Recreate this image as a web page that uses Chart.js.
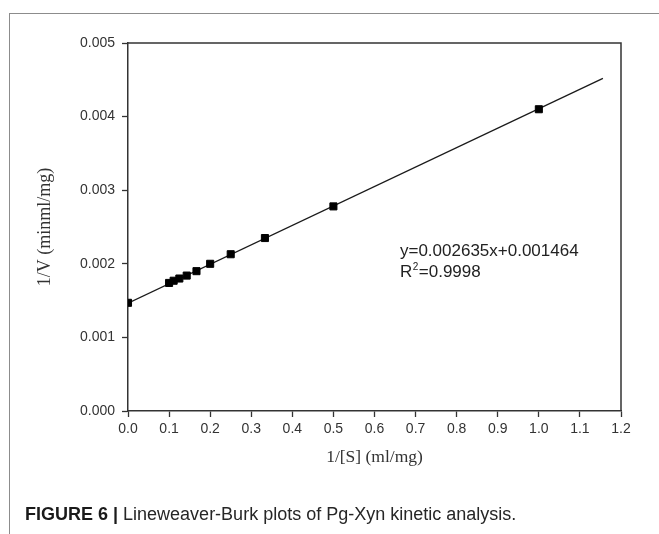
<!DOCTYPE html>
<html>
<head>
<meta charset="utf-8">
<script src="https://cdn.jsdelivr.net/npm/chart.js@4"></script>
<style>
    html, body { margin: 0; padding: 0; background: #fff; }
    body { width: 659px; height: 534px; position: relative; overflow: hidden; }
    #frame {
        position: absolute; left: 9px; top: 13px; right: -10px; bottom: -10px;
        border-top: 1.5px solid #8c8c8c; border-left: 1.5px solid #8c8c8c;
    }
    #chart { position: absolute; left: 0; top: 0; }
    #caption {
        position: absolute; left: 25px; top: 502px;
        font-family: "Liberation Sans", Arial, sans-serif; font-size: 18px; line-height: 24px;
        color: #262626; white-space: nowrap;
    }
    #caption b { font-weight: bold; color: #1a1a1a; }
</style>
</head>
<body>
<div id="frame"></div>
<canvas id="chart" width="659" height="534"></canvas>
<div id="caption"><b>FIGURE 6 |</b> Lineweaver-Burk plots of Pg-Xyn kinetic analysis.</div>
<script>
// measured points, 1/[S] vs 1/V
const substrateInv = [0, 0.1, 0.1111, 0.125, 0.1429, 0.1667, 0.2, 0.25, 0.3333, 0.5, 1.0];
const velocityInv = [0.00147, 0.00174, 0.00177, 0.0018, 0.00184, 0.0019, 0.002, 0.00213, 0.00235, 0.00278, 0.0041];

// fitted line, ends
const fitX = [0, 1.156];
const fitY = [0.001464, 0.00452];

const xTicks = [0, 0.1, 0.2, 0.3, 0.4, 0.5, 0.6, 0.7, 0.8, 0.9, 1.0, 1.1, 1.2];
const yTicks = [0, 0.001, 0.002, 0.003, 0.004, 0.005];

const equationText = 'y=0.002635x+0.001464';
const r2Text = '=0.9998';

const axisColor = '#333';

const plotFrame = {
    id: 'plotFrame',
    afterDatasetsDraw: function (chart) {
        const a = chart.chartArea;
        const ctx = chart.ctx;
        ctx.save();
        ctx.strokeStyle = axisColor;
        ctx.lineWidth = 1.5;
        ctx.beginPath();
        ctx.moveTo(a.left, a.top);
        ctx.lineTo(a.right, a.top);
        ctx.lineTo(a.right, a.bottom);
        ctx.stroke();
        ctx.restore();
    }
};

const fitLabel = {
    id: 'fitLabel',
    afterDraw: function (chart) {
        const ctx = chart.ctx;
        const x = chart.scales.x.getPixelForValue(0.662);
        const y1 = chart.scales.y.getPixelForValue(0.00210);
        const y2 = y1 + 21;
        ctx.save();
        ctx.fillStyle = '#222';
        ctx.textBaseline = 'alphabetic';
        ctx.font = '17px "Liberation Sans", Arial, sans-serif';
        ctx.fillText(equationText, x, y1);
        ctx.fillText('R', x, y2);
        const rw = ctx.measureText('R').width;
        ctx.font = '10px "Liberation Sans", Arial, sans-serif';
        ctx.fillText('2', x + rw + 0.5, y2 - 7);
        const sw = ctx.measureText('2').width;
        ctx.font = '17px "Liberation Sans", Arial, sans-serif';
        ctx.fillText(r2Text, x + rw + sw + 1, y2);
        ctx.restore();
    }
};

new Chart(document.getElementById('chart'), {
    type: 'scatter',
    data: {
        datasets: [
            {
                data: fitX.map((v, i) => ({x: v, y: fitY[i]})),
                showLine: true,
                borderColor: '#1a1a1a',
                borderWidth: 1.3,
                pointRadius: 0,
                order: 2
            },
            {
                data: substrateInv.map((v, i) => ({x: v, y: velocityInv[i]})),
                pointStyle: 'rect',
                pointRadius: 5,
                borderWidth: 1,
                backgroundColor: '#000',
                borderColor: '#000',
                order: 1
            }
        ]
    },
    options: {
        responsive: false,
        animation: false,
        layout: {padding: {left: 30, top: 43, right: 38, bottom: 53}},
        plugins: {legend: {display: false}, tooltip: {enabled: false}},
        scales: {
            x: {
                type: 'linear',
                min: 0,
                max: 1.2,
                afterBuildTicks: function (scale) {
                    scale.ticks = xTicks.map(v => ({value: v}));
                },
                afterFit: function (scale) {
                    scale.height = 70;
                },
                border: {display: true, color: axisColor, width: 1.5},
                grid: {drawOnChartArea: false, drawTicks: true, tickLength: 6, tickWidth: 1.3, tickColor: axisColor},
                ticks: {
                    padding: 4,
                    color: '#333',
                    font: {family: '"Liberation Sans", Arial, sans-serif', size: 14},
                    callback: v => v.toFixed(1)
                },
                title: {
                    display: true,
                    text: '1/[S] (ml/mg)',
                    color: '#333',
                    padding: {top: 0, bottom: 13},
                    font: {family: '"Liberation Serif", "Times New Roman", serif', size: 17.5}
                }
            },
            y: {
                type: 'linear',
                min: 0,
                max: 0.005,
                afterBuildTicks: function (scale) {
                    scale.ticks = yTicks.map(v => ({value: v}));
                },
                afterFit: function (scale) {
                    scale.width = 98;
                },
                border: {display: true, color: axisColor, width: 1.5},
                grid: {drawOnChartArea: false, drawTicks: true, tickLength: 6, tickWidth: 1.3, tickColor: axisColor},
                ticks: {
                    padding: 7,
                    color: '#333',
                    font: {family: '"Liberation Sans", Arial, sans-serif', size: 14},
                    callback: v => v.toFixed(3)
                },
                title: {
                    display: true,
                    text: '1/V (minml/mg)',
                    color: '#333',
                    padding: {top: 4, bottom: 0},
                    font: {family: '"Liberation Serif", "Times New Roman", serif', size: 18}
                }
            }
        }
    },
    plugins: [plotFrame, fitLabel]
});
</script>
</body>
</html>
